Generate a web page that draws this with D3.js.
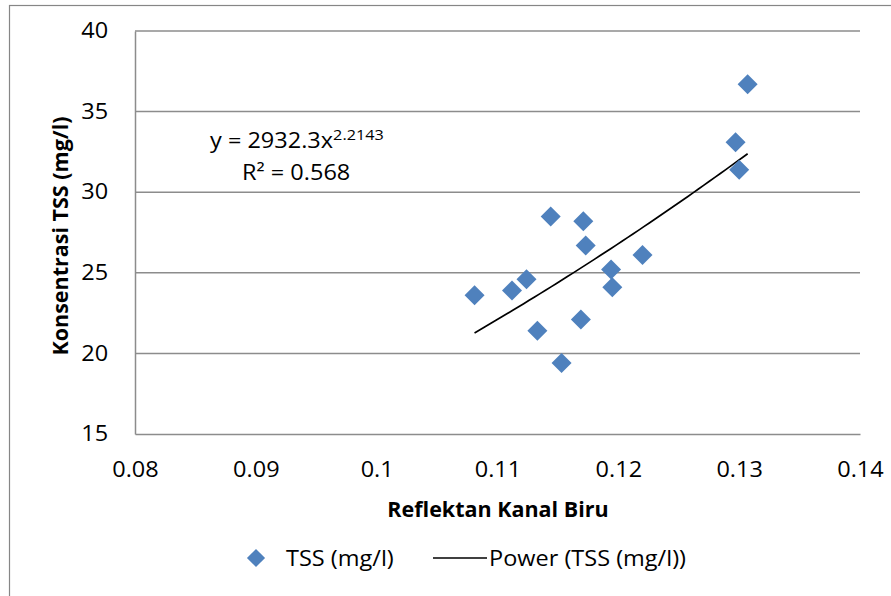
<!DOCTYPE html>
<html>
<head>
<meta charset="utf-8">
<script src="https://cdn.jsdelivr.net/npm/d3@7"></script>
<style>
  body { margin: 0; background: #fff; }
  svg { display: block; font-family: "Open Sans", sans-serif; }
</style>
</head>
<body>
<div id="chart"></div>
<script>
// reflectance (blue band) vs TSS concentration
const reflektan = [0.1081, 0.1112, 0.1124, 0.1133, 0.1144, 0.1153, 0.1169, 0.1171,
                   0.1173, 0.1194, 0.1195, 0.1220, 0.1297, 0.1300, 0.1307];
const tss = [23.6, 23.9, 24.6, 21.4, 28.5, 19.4, 22.1, 28.2,
             26.7, 25.2, 24.1, 26.1, 33.1, 31.4, 36.7];
const xTicks = [0.08, 0.09, 0.1, 0.11, 0.12, 0.13, 0.14];
const yTicks = [15, 20, 25, 30, 35, 40];
const coefA = 2932.3, coefB = 2.2143, rSquared = 0.568;

const width = 891, height = 596;
const margin = {left: 135, top: 31, right: 31, bottom: 162};
const stretch = "scale(1.12,1)"; // reference text is a bit wide

const svg = d3.select("#chart").append("svg")
    .attr("width", width)
    .attr("height", height);

// outer chart border
svg.append("rect")
    .attr("x", 9.5).attr("y", 5.5)
    .attr("width", width + 20).attr("height", height + 20)
    .attr("fill", "none").attr("stroke", "#868686").attr("stroke-width", 1.2);

const x = d3.scaleLinear().domain([0.08, 0.14]).range([margin.left, width - margin.right]);
const y = d3.scaleLinear().domain([15, 40]).range([height - margin.bottom, margin.top]);

// gridlines
svg.append("g")
    .selectAll("line")
    .data(yTicks.filter(d => d > 15))
    .enter().append("line")
    .attr("x1", x(0.08)).attr("x2", x(0.14))
    .attr("y1", d => y(d)).attr("y2", d => y(d))
    .attr("stroke", "#8c8c8c").attr("stroke-width", 1.5);

// axes
const yAxis = svg.append("g")
    .attr("transform", `translate(${x(0.08)},0)`)
    .call(d3.axisLeft(y).tickValues(yTicks).tickSize(0).tickPadding(24));
const xAxis = svg.append("g")
    .attr("transform", `translate(0,${y(15)})`)
    .call(d3.axisBottom(x).tickValues(xTicks).tickSize(0).tickPadding(28)
        .tickFormat(d => String(+d.toFixed(2))));
[xAxis, yAxis].forEach(g => {
    g.select(".domain").attr("stroke", "#8c8c8c").attr("stroke-width", 1.5);
    g.selectAll("text").attr("font-size", 21).attr("fill", "#000")
        .attr("font-family", "'Open Sans', sans-serif")
        .attr("transform", stretch);
});

// axis titles
svg.append("text")
    .attr("x", 498).attr("y", 517)
    .attr("text-anchor", "middle")
    .attr("font-size", 21.5).attr("font-weight", "bold")
    .text("Reflektan Kanal Biru");
svg.append("text")
    .attr("transform", `translate(68,236) rotate(-90)`)
    .attr("text-anchor", "middle")
    .attr("font-size", 21.5).attr("font-weight", "bold")
    .text("Konsentrasi TSS (mg/l)");

// power trendline over the data range
const xr = d3.extent(reflektan);
const trend = d3.range(0, 51).map(i => xr[0] + (xr[1] - xr[0]) * i / 50);
svg.append("path")
    .datum(trend)
    .attr("fill", "none").attr("stroke", "#000").attr("stroke-width", 1.7)
    .attr("d", d3.line().x(d => x(d)).y(d => y(coefA * Math.pow(d, coefB))));

// data points
const diamond = d3.symbol().type(d3.symbolSquare).size(200);
svg.append("g")
    .selectAll("path")
    .data(reflektan.map((r, i) => [r, tss[i]]))
    .enter().append("path")
    .attr("d", diamond)
    .attr("transform", d => `translate(${x(d[0])},${y(d[1])}) rotate(45)`)
    .attr("fill", "#4f81bd");

// equation label
const eq = svg.append("text").attr("transform", `translate(210,148) ${stretch}`)
    .attr("font-size", 21);
eq.append("tspan").text(`y = ${coefA}x`);
eq.append("tspan").attr("font-size", 14.5).attr("dy", -8).text(coefB);
svg.append("text").attr("transform", `translate(242,180) ${stretch}`).attr("font-size", 21)
    .text(`R² = ${rSquared}`);

// legend
const lg = svg.append("g").attr("font-size", 21);
lg.append("path").attr("d", d3.symbol().type(d3.symbolSquare).size(165))
    .attr("transform", "translate(256,558) rotate(45)").attr("fill", "#4f81bd");
lg.append("text").attr("transform", `translate(286,566) ${stretch}`).text("TSS (mg/l)");
lg.append("line").attr("x1", 433).attr("x2", 487).attr("y1", 558).attr("y2", 558)
    .attr("stroke", "#000").attr("stroke-width", 1.7);
lg.append("text").attr("transform", `translate(489,566) ${stretch}`).text("Power (TSS (mg/l))");
</script>
</body>
</html>
